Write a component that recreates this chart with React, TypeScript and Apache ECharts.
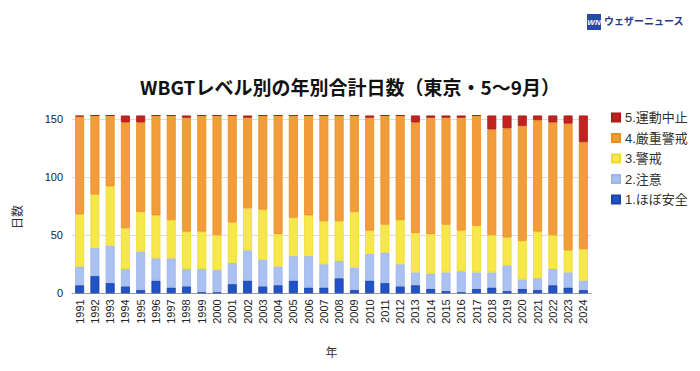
import React, { useEffect, useRef } from "react";
import * as echarts from "echarts";

const years = [
  "1991", "1992", "1993", "1994", "1995", "1996", "1997", "1998", "1999", "2000",
  "2001", "2002", "2003", "2004", "2005", "2006", "2007", "2008", "2009", "2010",
  "2011", "2012", "2013", "2014", "2015", "2016", "2017", "2018", "2019", "2020",
  "2021", "2022", "2023", "2024",
];

const level1Safe = [7, 15, 9, 6, 3, 11, 5, 6, 1, 1, 8, 11, 6, 7, 11, 5, 5, 13, 3, 11, 9, 6, 7, 4, 2, 1, 4, 5, 2, 4, 3, 7, 5, 3];
const level2Caution = [16, 24, 32, 15, 33, 19, 25, 15, 20, 19, 18, 26, 23, 16, 21, 27, 20, 15, 19, 23, 26, 19, 11, 13, 16, 18, 14, 13, 22, 8, 10, 14, 13, 8];
const level3Warning = [45, 46, 51, 35, 34, 37, 33, 32, 32, 30, 35, 36, 43, 28, 33, 35, 37, 34, 48, 20, 24, 38, 34, 34, 41, 35, 40, 32, 24, 33, 40, 29, 19, 27];
const level4Severe = [84, 68, 61, 91, 77, 86, 90, 98, 100, 103, 92, 78, 81, 102, 88, 86, 91, 91, 83, 97, 94, 90, 95, 100, 92, 97, 95, 91, 94, 99, 96, 97, 109, 92];
const level5Stop = [1, 0, 0, 6, 6, 0, 0, 2, 0, 0, 0, 2, 0, 0, 0, 0, 0, 0, 0, 2, 0, 0, 6, 2, 2, 2, 0, 12, 11, 9, 4, 6, 7, 23];

const yTicks = [0, 50, 100, 150];

const seriesDefs = [
  { name: "1.ほぼ安全", data: level1Safe, color: "#2152c6", border: "#1a44a8" },
  { name: "2.注意", data: level2Caution, color: "#aac1f1", border: "#9db5e8" },
  { name: "3.警戒", data: level3Warning, color: "#f6e84b", border: "#f0dc2a" },
  { name: "4.厳重警戒", data: level4Severe, color: "#f19d3b", border: "#ee8e1c" },
  { name: "5.運動中止", data: level5Stop, color: "#c1241f", border: "#a81c18" },
];

const FONT = '"Liberation Sans", Arial, "Noto Sans CJK JP", sans-serif';

export default function App() {
  const ref = useRef<HTMLDivElement>(null);

  useEffect(() => {
    if (!ref.current) return;
    const chart = echarts.init(ref.current, undefined, { renderer: "svg" });
    chart.setOption({
      animation: false,
      backgroundColor: "#ffffff",
      textStyle: { fontFamily: FONT },
      title: {
        text: "WBGTレベル別の年別合計日数（東京・5〜9月）",
        left: "center",
        top: 72,
        textStyle: {
          fontFamily: '"Noto Sans CJK JP", sans-serif',
          fontSize: 19,
          fontWeight: "bold",
          color: "#111111",
        },
      },
      legend: {
        orient: "vertical",
        left: 606,
        top: 106,
        icon: "rect",
        itemWidth: 8,
        itemHeight: 8,
        itemGap: 7.5,
        data: ["5.運動中止", "4.厳重警戒", "3.警戒", "2.注意", "1.ほぼ安全"],
        textStyle: { fontSize: 13, color: "#333333", fontFamily: FONT, lineHeight: 13 },
      },
      grid: { left: 72, right: 109, top: 115.5, bottom: 77.7, containLabel: false },
      xAxis: {
        type: "category",
        data: years,
        name: "年",
        nameLocation: "middle",
        nameGap: 54,
        nameTextStyle: { fontSize: 12, color: "#333333" },
        axisTick: { show: false },
        axisLine: { lineStyle: { color: "#999999", width: 1 } },
        axisLabel: { rotate: 90, fontSize: 11, color: "#222222", margin: 6, interval: 0 },
      },
      yAxis: {
        type: "value",
        min: 0,
        max: 153,
        interval: 50,
        axisLine: { show: false },
        axisTick: { show: false },
        axisLabel: {
          fontSize: 11,
          color: "#222222",
          margin: 9,
          showMaxLabel: false,
          formatter: (v: number) => (yTicks.includes(v) ? String(v) : ""),
        },
        splitLine: { show: true, showMaxLine: false, lineStyle: { color: "#dddddd", width: 1 } },
      },
      graphic: [
        {
          type: "text",
          x: 18,
          y: 217,
          rotation: Math.PI / 2,
          style: {
            text: "日数",
            fontSize: 12,
            fill: "#333333",
            fontFamily: FONT,
            textAlign: "center",
            textVerticalAlign: "middle",
          },
        },
        {
          type: "rect",
          shape: { x: 587, y: 14, width: 14, height: 16 },
          style: { fill: "#2a48a8" },
        },
        {
          type: "text",
          x: 594,
          y: 22,
          style: {
            text: "WN",
            fontSize: 8,
            fontWeight: "bold",
            fontStyle: "italic",
            fill: "#ffffff",
            fontFamily: FONT,
            textAlign: "center",
            textVerticalAlign: "middle",
          },
        },
        {
          type: "text",
          x: 604,
          y: 20,
          style: {
            text: "ウェザーニュース",
            fontSize: 10,
            fontWeight: "bold",
            fill: "#2b3a80",
            fontFamily: '"Noto Sans CJK JP", sans-serif',
            textAlign: "left",
            textVerticalAlign: "middle",
          },
        },
      ],
      series: seriesDefs.map((s) => ({
        name: s.name,
        type: "bar",
        stack: "total",
        barWidth: 9,
        data: s.data,
        itemStyle: { color: s.color, borderColor: s.border, borderWidth: 0.8 },
        emphasis: { disabled: true },
      })),
    });
    return () => chart.dispose();
  }, []);

  return (
    <div
      ref={ref}
      style={{ position: "fixed", left: 0, top: 0, width: 700, height: 371 }}
    />
  );
}
